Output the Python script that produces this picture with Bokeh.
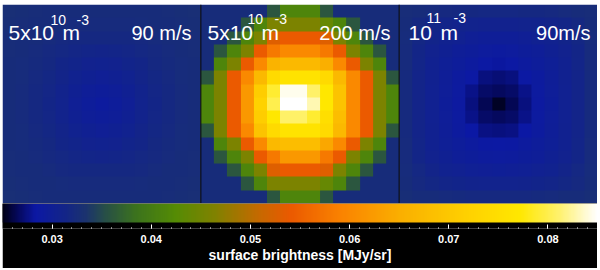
import numpy as np
from bokeh.plotting import figure
from bokeh.layouts import column
from bokeh.models import LinearColorMapper, SingleIntervalTicker
from bokeh.core.properties import value
from bokeh.embed import file_html
from bokeh.resources import INLINE

# surface brightness, in 10^-3 MJy/sr, rows from top to bottom
panel_a = [
 [32.8,32.7,32.6,32.5,32.5,32.4,32.4,32.4,32.4,32.4,32.5,32.5,32.6,32.7,32.8],
 [32.7,32.6,32.5,32.4,32.3,32.2,32.2,32.2,32.2,32.2,32.3,32.4,32.5,32.6,32.7],
 [32.6,32.5,32.4,32.2,32.0,31.9,31.8,31.8,31.8,31.9,32.0,32.2,32.4,32.5,32.6],
 [32.6,32.4,32.2,32.0,31.7,31.5,31.3,31.2,31.3,31.5,31.7,32.0,32.2,32.4,32.6],
 [32.5,32.3,32.1,31.8,31.4,31.0,30.7,30.6,30.7,31.0,31.4,31.8,32.1,32.3,32.5],
 [32.5,32.3,32.0,31.6,31.1,30.6,30.2,30.0,30.2,30.6,31.1,31.6,32.0,32.3,32.5],
 [32.5,32.2,31.9,31.5,30.9,30.2,29.7,29.5,29.7,30.2,30.9,31.5,31.9,32.2,32.5],
 [32.5,32.2,31.9,31.4,30.8,30.0,29.4,29.1,29.4,30.0,30.8,31.4,31.9,32.2,32.5],
 [32.5,32.2,31.9,31.5,30.9,30.2,29.7,29.5,29.7,30.2,30.9,31.5,31.9,32.2,32.5],
 [32.5,32.3,32.0,31.6,31.1,30.6,30.2,30.0,30.2,30.6,31.1,31.6,32.0,32.3,32.5],
 [32.5,32.3,32.1,31.8,31.4,31.0,30.7,30.6,30.7,31.0,31.4,31.8,32.1,32.3,32.5],
 [32.6,32.4,32.2,32.0,31.7,31.5,31.3,31.2,31.3,31.5,31.7,32.0,32.2,32.4,32.6],
 [32.6,32.5,32.4,32.2,32.0,31.9,31.8,31.8,31.8,31.9,32.0,32.2,32.4,32.5,32.6],
 [32.7,32.6,32.5,32.4,32.3,32.2,32.2,32.2,32.2,32.2,32.3,32.4,32.5,32.6,32.7],
 [32.8,32.7,32.6,32.5,32.5,32.4,32.4,32.4,32.4,32.4,32.5,32.5,32.6,32.7,32.8],
]
panel_b = [
 [32.5,32.5,32.5,32.5,32.5,36,41.5,41.5,41.5,36,32.5,32.5,32.5,32.5,32.5],
 [32.5,32.5,32.5,36,41.5,46,46,46,46,44,41.5,36,32.5,32.5,32.5],
 [32.5,32.5,36,41.5,46,53,54,54,54,53,46,41.5,36,32.5,32.5],
 [32.5,36,41.5,46,54,58,60,60,60,58,54,46,41.5,36,32.5],
 [32.5,41.5,46,54,60,66,67,67,67,65,60,54,46,41.5,32.5],
 [36,46,54,60,67,74,76,76,76,74,67,60,54,46,36],
 [41.5,46,54,62,71,79,84.5,84.5,81,77,69,60,54,46,41.5],
 [41.5,46,54,62,72,80,85,85,83,77,69,60,54,46,41.5],
 [41.5,46,54,62,71,77,81,81,79,75,68,60,54,46,41.5],
 [36,46,54,60,69,74,76,76,76,74,67,60,54,46,36],
 [32.5,41.5,46,54,60,67,68,68,68,64,60,54,46,41.5,32.5],
 [32.5,36,41.5,46,54,58,62,62,62,58,54,46,41.5,36,32.5],
 [32.5,32.5,36,41.5,46,53,54,54,54,53,46,41.5,36,32.5,32.5],
 [32.5,32.5,32.5,36,41.5,46,46,46,46,44,41.5,36,32.5,32.5,32.5],
 [32.5,32.5,32.5,32.5,32.5,36,41.5,41.5,41.5,36,32.5,32.5,32.5,32.5,32.5],
]
panel_c = [
 [32.6,32.4,32.2,32.0,31.9,31.8,31.7,31.7,31.7,31.8,31.9,32.0,32.2,32.4,32.6],
 [32.4,31.9,31.4,31.1,30.9,30.8,30.7,30.7,30.7,30.8,30.9,31.1,31.4,31.9,32.4],
 [32.3,31.6,31.0,30.6,30.3,30.0,29.8,29.7,29.8,30.0,30.3,30.6,31.0,31.6,32.3],
 [32.2,31.4,30.7,30.2,29.8,29.5,29.2,29.0,29.2,29.5,29.8,30.2,30.7,31.4,32.2],
 [32.2,31.3,30.5,29.9,29.4,29.0,28.4,28.2,28.4,29.0,29.4,29.9,30.5,31.3,32.2],
 [32.1,31.2,30.4,29.7,29.1,28.4,27.4,27.2,27.4,28.4,29.1,29.7,30.4,31.2,32.1],
 [32.1,31.1,30.3,29.6,28.9,27.6,26.8,26.6,26.8,27.6,28.9,29.6,30.3,31.1,32.1],
 [32.1,31.1,30.3,29.5,28.8,27.4,26.4,25.4,26.4,27.4,28.8,29.5,30.3,31.1,32.1],
 [32.1,31.1,30.3,29.6,28.9,27.6,26.8,26.6,26.8,27.6,28.9,29.6,30.3,31.1,32.1],
 [32.1,31.2,30.4,29.7,29.0,28.3,27.5,27.4,27.5,28.3,29.0,29.7,30.4,31.2,32.1],
 [32.2,31.3,30.5,29.9,29.4,29.0,28.6,28.5,28.6,29.0,29.4,29.9,30.5,31.3,32.2],
 [32.2,31.4,30.7,30.2,29.8,29.5,29.3,29.2,29.3,29.5,29.8,30.2,30.7,31.4,32.2],
 [32.3,31.7,31.1,30.6,30.3,30.1,30.0,29.9,30.0,30.1,30.3,30.6,31.1,31.7,32.3],
 [32.5,32.0,31.6,31.3,31.0,30.9,30.8,30.8,30.8,30.9,31.0,31.3,31.6,32.0,32.5],
 [32.7,32.5,32.4,32.2,32.1,32.0,32.0,32.0,32.0,32.0,32.1,32.2,32.4,32.5,32.7],
]
panels = [panel_a, panel_b, panel_c]
tick_unit = 0.01
value_low = 0.025
value_high = 0.085
axis_title = "surface brightness [MJy/sr]"

# text, x and y in page pixels, font size, alignment
labels = [
 ("5x10", 8, 32, 21, "left"), ("10", 50, 19, 14, "left"), ("m", 62, 32, 21, "left"),
 ("-3", 76, 19, 14, "left"), ("90 m/s", 191, 32, 20, "right"),
 ("5x10", 207, 32, 21, "left"), ("10", 247, 18, 14, "left"), ("m", 261, 32, 21, "left"),
 ("-3", 274, 18, 14, "left"), ("200 m/s", 390, 32, 20, "right"),
 ("10", 408, 32, 21, "left"), ("11", 426, 17, 14, "left"), ("m", 440, 32, 21, "left"),
 ("-3", 453, 17, 14, "left"), ("90m/s", 590, 32, 20, "right"),
]

# colour ramp: value, r, g, b
ramp = [
 (0.0250, 0, 0, 20), (0.0263, 5, 8, 85), (0.0283, 12, 25, 165), (0.0314, 20, 38, 135),
 (0.0334, 28, 52, 110), (0.0354, 40, 80, 70), (0.0384, 60, 115, 30), (0.0424, 85, 140, 5),
 (0.0465, 130, 130, 0), (0.0510, 200, 105, 0), (0.0540, 235, 90, 0), (0.0590, 250, 130, 0),
 (0.0650, 250, 175, 0), (0.0720, 255, 210, 0), (0.0772, 255, 232, 0), (0.0812, 255, 242, 110),
 (0.0850, 255, 255, 255),
]
stops = np.array(ramp)
levels = np.linspace(value_low, value_high, 512)
rgb = np.stack([np.interp(levels, stops[:, 0], stops[:, i]) for i in (1, 2, 3)], axis=1).astype(int)
palette = ["#%02x%02x%02x" % tuple(c) for c in rgb]
mapper = LinearColorMapper(palette=palette, low=value_low, high=value_high)

LEFT, TOP = 2, 4
W, H_TOP, H_BOT = 595, 199, 65
top = figure(width=W, height=H_TOP, x_range=(0, 45), y_range=(0, 15), toolbar_location=None,
             output_backend="svg", min_border_left=0, min_border_right=0, min_border_top=0,
             min_border_bottom=0, x_axis_location=None, y_axis_location=None, outline_line_color=None)
top.grid.visible = False
for i, panel in enumerate(panels):
    top.image(image=[np.flipud(np.array(panel)) * 1e-3], x=15 * i, y=0, dw=15, dh=15, color_mapper=mapper)
top.segment(x0=[15, 30, 0], y0=[0, 0, 0], x1=[15, 30, 45], y1=[15, 15, 0], line_color="black", line_width=1)

for txt, px, py, size, align in labels:
    top.text(x=[(px - LEFT) / W * 45], y=[15 - (py - TOP) / (H_TOP) * 15], text=[txt],
             text_color="white", text_font=value("Liberation Sans"), text_font_size=f"{size}px",
             text_align=align, text_baseline="alphabetic")

bar = figure(width=W, height=H_BOT, x_range=(value_low, value_high), y_range=(0, 25), toolbar_location=None,
             output_backend="svg", min_border_left=0, min_border_right=0, min_border_top=0,
             min_border_bottom=40, y_axis_location=None, outline_line_color=None,
             background_fill_color="black", border_fill_color="black")
bar.grid.visible = False
bar.image(image=[levels[None, :]], x=value_low, y=6, dw=value_high - value_low, dh=19, color_mapper=mapper)
ax = bar.xaxis[0]
ax.ticker = SingleIntervalTicker(interval=tick_unit, num_minor_ticks=10)
ax.axis_line_color = None
ax.major_tick_line_color = "white"
ax.minor_tick_line_color = "white"
ax.major_tick_in, ax.major_tick_out = 4, 0
ax.minor_tick_in, ax.minor_tick_out = 1, 0
ax.major_label_text_color = "white"
ax.major_label_text_font = "Liberation Sans"
ax.major_label_text_font_style = "bold"
ax.major_label_text_font_size = "11px"
ax.major_label_standoff = 6
ax.axis_label = axis_title
ax.axis_label_text_color = "white"
ax.axis_label_text_font = "Liberation Sans"
ax.axis_label_text_font_style = "bold"
ax.axis_label_text_font_size = "14px"
ax.axis_label_standoff = 1

page = column(top, bar, spacing=0)
page.styles = {"position": "absolute", "left": f"{LEFT}px", "top": f"{TOP}px"}
open("out.html", "w").write(file_html(page, INLINE))
